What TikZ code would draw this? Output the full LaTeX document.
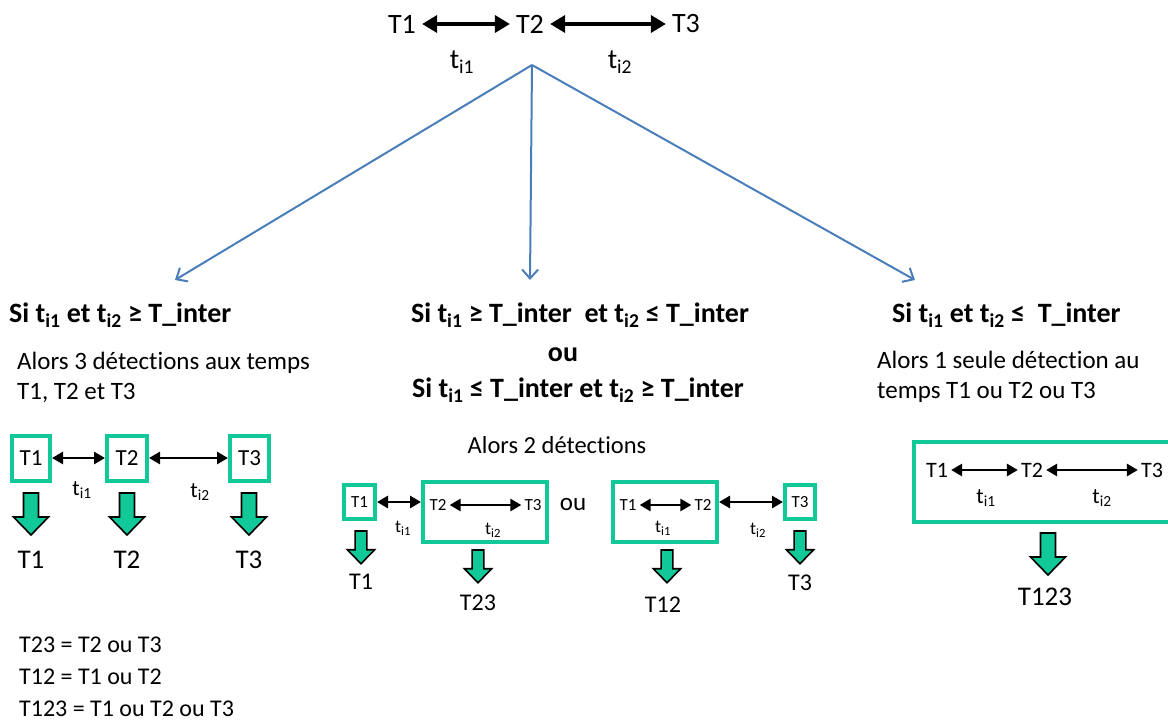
\documentclass[tikz,border=0pt]{standalone}
\usepackage{fontspec}
\setmainfont[Ligatures=NoCommon]{Carlito}
\usetikzlibrary{arrows.meta}
\definecolor{detGreen}{HTML}{10C898}
\definecolor{detBlue}{HTML}{4A7EBB}
\newcommand{\tsub}[1]{t\textsubscript{i#1}}
\newcommand{\px}[2][]{\fontsize{#2}{#2}\selectfont}
\tikzset{
  lbl/.style={inner sep=3pt},
  head/.style={font=\bfseries\fontsize{28}{34}\selectfont, inner sep=0pt},
  para/.style={font=\fontsize{25}{30}\selectfont, align=left, anchor=west, inner sep=0pt},
  gbox/.style={draw=detGreen, line width=4pt, inner sep=0pt},
  dbl/.style={black, line width=3.5pt, {Triangle[length=15pt,width=17pt]}-{Triangle[length=15pt,width=17pt]}},
  sdbl/.style={black, line width=2.8pt, {Triangle[length=11pt,width=12pt]}-{Triangle[length=11pt,width=12pt]}},
  branch/.style={detBlue, line width=2pt, -{Straight Barb[length=9pt,width=16pt,line width=2pt]}},
  detarrow/.pic={
    \draw[black, line width=1.6pt, fill=detGreen]
      (-7.5,0) -- (-7.5,24) -- (-17.5,24) -- (0,42) -- (17.5,24) -- (7.5,24) -- (7.5,0) -- cycle;
  }
}
\begin{document}
\begin{tikzpicture}[x=1pt, y=-1pt]
\useasboundingbox (0,0) rectangle (1168,722);

% top line
\node[inner sep=6pt, font=\px{28}] (T1) at (402,24) {T1};
\node[inner sep=6pt, font=\px{28}] (T2) at (530,24) {T2};
\node[inner sep=6pt, font=\px{28}] (T3) at (686,24) {T3};
\draw[dbl] (T1) -- (T2);
\draw[dbl] (T2) -- (T3);
\node[font=\px{28}] (top1) at (462,62) {\tsub1};
\node[font=\px{28}] (top2) at (620,62) {\tsub2};

% branches
\coordinate (apex) at (532,65);
\coordinate (endA) at (175,280);
\coordinate (endB) at (530,280);
\coordinate (endC) at (915,280);
\draw[branch] (apex) -- (endA);
\draw[branch] (apex) -- (endB);
\draw[branch] (apex) -- (endC);

% headings
\node[head, anchor=west] (condA) at (9,315) {Si \tsub1 et \tsub2 ≥ T\_inter};
\node[head] (condB) at (580,315) {Si \tsub1 ≥ T\_inter\ \ et \tsub2 ≤ T\_inter};
\node[head] (condOu) at (563,355) {ou};
\node[head] (condB2) at (578,390) {Si \tsub1 ≤ T\_inter et \tsub2 ≥ T\_inter};
\node[head, anchor=west] (condC) at (892,315) {Si \tsub1 et \tsub2 ≤\ \ T\_inter};

\node[para] (alorsA) at (17,377) {Alors 3 détections aux temps\\T1, T2 et T3};
\node[font=\px{24.5}] (alorsB) at (557,445) {Alors 2 détections};
\node[para] (alorsC) at (877,377) {Alors 1 seule détection au\\temps T1 ou T2 ou T3};

% case A: three detections
\node[gbox, font=\px{23}, minimum width=38, minimum height=45] (a1) at (31,458) {T1};
\node[gbox, font=\px{23}, minimum width=40, minimum height=45] (a2) at (127,458) {T2};
\node[gbox, font=\px{23}, minimum width=39, minimum height=45] (a3) at (249.5,458) {T3};
\draw[sdbl] (a1) -- (a2);
\draw[sdbl] (a2) -- (a3);
\node[font=\px{22}] (aT1) at (82,490) {\tsub1};
\node[font=\px{22}] (aT2) at (200,492) {\tsub2};
\pic (aArr1) at (31,493) {detarrow};
\pic (aArr2) at (127,493) {detarrow};
\pic (aArr3) at (249,493) {detarrow};
\node[font=\px{27}] (aOut1) at (31,560) {T1};
\node[font=\px{27}] (aOut2) at (127,560) {T2};
\node[font=\px{27}] (aOut3) at (249,560) {T3};

% case B: two detections
\node[gbox, font=\px{17}, minimum width=31, minimum height=34] (b1) at (359.5,502) {T1};
\node[gbox, minimum width=124, minimum height=60] (b23) at (485,512) {};
\node[lbl, font=\px{17}] (b23a) at (438,505) {T2};
\node[lbl, font=\px{17}] (b23b) at (533,505) {T3};
\draw[sdbl] (b1) -- (b23.west |- b1);
\draw[sdbl] (b23a) -- (b23b);
\node[font=\px{18}] (bT1) at (403,528) {\tsub1};
\node[font=\px{18}] (bT2) at (493,530) {\tsub2};
\node[font=\px{25}] (bOu) at (573,505) {ou};
\node[gbox, minimum width=104, minimum height=60] (b12) at (665,512) {};
\node[lbl, font=\px{17}] (b12a) at (628,505) {T1};
\node[lbl, font=\px{17}] (b12b) at (703,505) {T2};
\node[gbox, font=\px{17}, minimum width=30, minimum height=34] (b3) at (800,502) {T3};
\draw[sdbl] (b12a) -- (b12b);
\draw[sdbl] (b12.east |- b3) -- (b3);
\node[font=\px{18}] (bT3) at (663,528) {\tsub1};
\node[font=\px{18}] (bT4) at (758,530) {\tsub2};
\pic[scale=0.78] (bArr1) at (361,531) {detarrow};
\pic[scale=0.78] (bArr2) at (478,550) {detarrow};
\pic[scale=0.78] (bArr3) at (667,550) {detarrow};
\pic[scale=0.78] (bArr4) at (800,531) {detarrow};
\node[font=\px{24}] (bOut1) at (361,582) {T1};
\node[font=\px{24}] (bOut2) at (478,603) {T23};
\node[font=\px{24}] (bOut3) at (663,605) {T12};
\node[font=\px{24}] (bOut4) at (800,583) {T3};

% case C: one detection
\node[gbox, minimum width=276, minimum height=80] (c123) at (1052,482) {};
\node[lbl, font=\px{22}] (c1) at (937,470) {T1};
\node[lbl, font=\px{22}] (c2) at (1032,470) {T2};
\node[lbl, font=\px{22}] (c3) at (1152,470) {T3};
\draw[sdbl] (c1) -- (c2);
\draw[sdbl] (c2) -- (c3);
\node[font=\px{22}] (cT1) at (986,498) {\tsub1};
\node[font=\px{22}] (cT2) at (1102,498) {\tsub2};
\pic (cArr) at (1048,533) {detarrow};
\node[font=\px{27}] (cOut) at (1045,597) {T123};

% legend
\node[para, font=\fontsize{24}{32}\selectfont] (legend) at (19,677) {T23 = T2 ou T3\\T12 = T1 ou T2\\T123 = T1 ou T2 ou T3};
\end{tikzpicture}
\end{document}
